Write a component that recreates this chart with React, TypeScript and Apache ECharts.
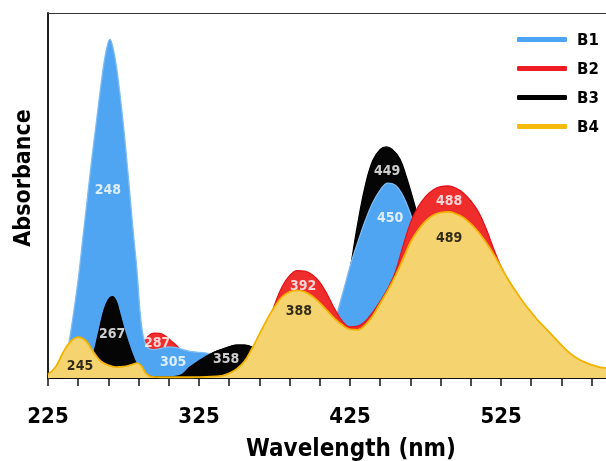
import React, { useEffect, useRef } from 'react';
import * as echarts from 'echarts';

// Wavelength origin of the x axis (nm)
const X0 = 225;
const XMAX = 594.5;
const xTickLabels = ['225', '325', '425', '525'];
const seriesNames = ['B1', 'B2', 'B3', 'B4'];

// B1 (blue)
const b1Wl = [225, 231, 236, 239, 242, 245, 248, 251, 254, 257, 260, 263, 266, 269, 272, 275, 278, 281, 284, 286, 288, 290, 292, 295, 300, 305, 310, 315, 320, 330, 335, 340, 345, 355, 370, 385, 400, 405, 410, 414, 418, 422, 426, 430, 435, 440, 445, 450, 455, 460, 465, 470, 475, 480, 485, 490, 500, 510, 530, 560, 600];
const b1Abs = [0, 0.01, 0.04, 0.1, 0.18, 0.27, 0.38, 0.49, 0.6, 0.7, 0.8, 0.885, 0.928, 0.885, 0.8, 0.69, 0.56, 0.42, 0.29, 0.18, 0.115, 0.09, 0.08, 0.078, 0.081, 0.085, 0.083, 0.077, 0.072, 0.068, 0.06, 0.045, 0.03, 0.02, 0.02, 0.025, 0.04, 0.05, 0.085, 0.14, 0.2, 0.26, 0.32, 0.37, 0.43, 0.48, 0.515, 0.534, 0.528, 0.5, 0.45, 0.385, 0.31, 0.23, 0.165, 0.12, 0.06, 0.035, 0.02, 0.01, 0.01];

// B2 (red)
const b2Wl = [225, 240, 255, 270, 280, 285, 288, 291, 295, 299, 303, 307, 311, 315, 320, 330, 340, 350, 355, 360, 365, 370, 375, 380, 385, 390, 395, 400, 405, 410, 415, 420, 425, 430, 435, 440, 445, 450, 455, 460, 465, 470, 475, 480, 485, 490, 495, 500, 505, 510, 515, 520, 525, 530, 535, 540, 545, 550, 555, 560, 565, 570, 575, 580, 585, 590, 595, 600];
const b2Abs = [0, 0.01, 0.02, 0.04, 0.055, 0.075, 0.095, 0.113, 0.123, 0.122, 0.114, 0.1, 0.085, 0.065, 0.048, 0.032, 0.028, 0.035, 0.042, 0.055, 0.09, 0.14, 0.2, 0.25, 0.28, 0.294, 0.293, 0.283, 0.262, 0.228, 0.188, 0.155, 0.14, 0.142, 0.155, 0.18, 0.21, 0.245, 0.29, 0.36, 0.425, 0.468, 0.497, 0.515, 0.524, 0.526, 0.52, 0.507, 0.485, 0.455, 0.41, 0.355, 0.305, 0.266, 0.234, 0.204, 0.178, 0.153, 0.132, 0.11, 0.088, 0.068, 0.053, 0.042, 0.034, 0.028, 0.025, 0.022];

// B3 (black)
const b3Wl = [225, 240, 250, 254, 258, 262, 265, 267.5, 270, 273, 276, 280, 284, 288, 294, 305, 313, 319, 325, 330, 335, 340, 345, 350, 355, 360, 365, 372, 385, 400, 410, 415, 420, 425, 430, 435, 440, 445, 449, 453, 458, 462, 466, 470, 475, 480, 485, 490, 500, 510, 520, 540, 600];
const b3Abs = [0, 0.003, 0.02, 0.05, 0.115, 0.185, 0.215, 0.223, 0.212, 0.17, 0.125, 0.075, 0.035, 0.012, 0.004, 0.003, 0.008, 0.03, 0.047, 0.06, 0.07, 0.078, 0.085, 0.09, 0.09, 0.085, 0.072, 0.05, 0.035, 0.04, 0.065, 0.1, 0.175, 0.295, 0.42, 0.525, 0.595, 0.626, 0.633, 0.626, 0.6, 0.555, 0.5, 0.44, 0.36, 0.285, 0.22, 0.17, 0.1, 0.06, 0.035, 0.015, 0.01];

// B4 (yellow)
const b4Wl = [225, 230, 235, 240, 245, 250, 255, 260, 265, 270, 275, 280, 284, 287, 290, 294, 300, 310, 320, 330, 340, 345, 350, 355, 360, 365, 370, 375, 380, 385, 390, 395, 400, 405, 410, 415, 420, 425, 430, 435, 440, 445, 450, 455, 460, 465, 470, 475, 480, 485, 490, 495, 500, 505, 510, 515, 520, 525, 530, 535, 540, 545, 550, 555, 560, 565, 570, 575, 580, 585, 590, 595, 600];
const b4Abs = [0.01, 0.03, 0.07, 0.1, 0.112, 0.102, 0.072, 0.046, 0.035, 0.03, 0.031, 0.036, 0.041, 0.032, 0.012, 0.003, 0.002, 0.002, 0.002, 0.003, 0.006, 0.013, 0.025, 0.045, 0.08, 0.12, 0.16, 0.195, 0.222, 0.236, 0.24, 0.236, 0.224, 0.206, 0.184, 0.162, 0.145, 0.133, 0.132, 0.145, 0.17, 0.205, 0.24, 0.28, 0.325, 0.372, 0.405, 0.43, 0.446, 0.453, 0.455, 0.45, 0.44, 0.422, 0.4, 0.372, 0.34, 0.304, 0.268, 0.236, 0.206, 0.18, 0.155, 0.134, 0.112, 0.09, 0.07, 0.055, 0.044, 0.036, 0.03, 0.027, 0.025];

// Peak annotations (text, wavelength position, absorbance position)
const peakLabels = ['248', '267', '245', '287', '305', '358', '392', '388', '449', '450', '488', '489'];
const peakWl = [264.7, 267.4, 246.2, 297.2, 307.8, 342.9, 393.9, 391.2, 449.5, 451.5, 490.6, 490.6];
const peakAbs = [0.518, 0.123, 0.036, 0.099, 0.047, 0.055, 0.255, 0.186, 0.57, 0.441, 0.488, 0.386];

const FONT = 'DejaVu Sans Condensed, DejaVu Sans, sans-serif';
const labelColors = ['#fff', '#fff', '#000', '#fff', '#fff', '#fff', '#fff', '#000', '#fff', '#fff', '#fff', '#000'];

function pts(wl: number[], ab: number[], lo = -Infinity, hi = Infinity) {
  const out: number[][] = [];
  wl.forEach((w, i) => {
    if (w >= lo && w <= hi) out.push([w - X0, ab[i]]);
  });
  return out;
}

export default function App() {
  const ref = useRef<HTMLDivElement>(null);
  useEffect(() => {
    const chart = echarts.init(ref.current!, null, { renderer: 'svg' });
    const area = (name: string, data: number[][], fill: string, line: string, z: number, lw = 1.3) => ({
      name,
      type: 'line',
      data,
      z,
      smooth: 0.4,
      symbol: 'none',
      showSymbol: false,
      silent: true,
      color: fill,
      lineStyle: { color: line, width: lw },
      areaStyle: { color: fill, opacity: 1 },
    });
    chart.setOption({
      animation: false,
      grid: { left: 48, top: 13, right: 0, bottom: 83, show: false },
      xAxis: [
        {
          type: 'value',
          min: 0,
          max: XMAX - X0,
          interval: 20,
          axisLine: { show: true, lineStyle: { color: '#111', width: 2 } },
          axisTick: { show: true, length: 8, lineStyle: { color: '#111', width: 1.5 } },
          splitLine: { show: false },
          axisLabel: {
            margin: 26,
            fontSize: 22,
            fontWeight: 'bold',
            fontFamily: FONT,
            color: '#000',
            showMaxLabel: false,
            formatter: (v: number) => {
              const s = String(Math.round(v + X0));
              return xTickLabels.includes(s) ? s : '';
            },
          },
        },
        {
          type: 'value',
          position: 'top',
          min: 0,
          max: XMAX - X0,
          axisLine: { show: true, lineStyle: { color: '#333', width: 1.2 } },
          axisTick: { show: false },
          axisLabel: { show: false },
          splitLine: { show: false },
        },
      ],
      yAxis: {
        type: 'value',
        min: 0,
        max: 1,
        axisLine: { show: true, lineStyle: { color: '#222', width: 2 } },
        axisTick: { show: false },
        axisLabel: { show: false },
        splitLine: { show: false },
      },
      legend: {
        orient: 'vertical',
        left: 517,
        top: 31,
        padding: 0,
        itemWidth: 50,
        itemHeight: 5,
        itemGap: 12,
        icon: 'roundRect',
        textStyle: { fontSize: 15, fontWeight: 'bold', fontFamily: 'DejaVu Sans', color: '#000', lineHeight: 17, padding: [0, 0, 0, 5] },
        data: [
          { name: seriesNames[0], itemStyle: { color: '#4DA6F5' } },
          { name: seriesNames[1], itemStyle: { color: '#EE1C24' } },
          { name: seriesNames[2], itemStyle: { color: '#000000' } },
          { name: seriesNames[3], itemStyle: { color: '#F5BA0A' } },
        ],
      },
      graphic: [
        {
          type: 'text',
          x: 22,
          y: 178,
          rotation: Math.PI / 2,
          style: { text: 'Absorbance', fontSize: 23, fontWeight: 'bold', fontFamily: FONT, fill: '#000', align: 'center', verticalAlign: 'middle' },
        },
        {
          type: 'text',
          x: 351,
          y: 448,
          style: { text: 'Wavelength (nm)', fontSize: 24, fontWeight: 'bold', fontFamily: FONT, fill: '#000', align: 'center', verticalAlign: 'middle' },
        },
      ],
      series: [
        area(seriesNames[2], pts(b3Wl, b3Abs), '#050505', '#000', 1),
        area(seriesNames[0], pts(b1Wl, b1Abs, 340), '#4FA5F2', '#7DBBF3', 2),
        area(seriesNames[1], pts(b2Wl, b2Abs), '#EF2D2D', '#E5141B', 3),
        area(seriesNames[0], pts(b1Wl, b1Abs, -Infinity, 340), '#4FA5F2', '#7DBBF3', 4),
        area(seriesNames[2], pts(b3Wl, b3Abs, -Infinity, 385), '#050505', '#000', 5),
        area(seriesNames[3], pts(b4Wl, b4Abs), '#F5D470', '#F2B200', 6, 1.8),
        {
          type: 'scatter',
          z: 10,
          silent: true,
          symbolSize: 1,
          itemStyle: { color: 'rgba(0,0,0,0)' },
          label: { show: true, position: 'inside', fontSize: 14, fontWeight: 'bold', fontFamily: FONT },
          data: peakLabels.map((t, i) => ({
            value: [peakWl[i] - X0, peakAbs[i]],
            label: { formatter: t, color: labelColors[i] },
          })),
        },
      ],
    });
    return () => chart.dispose();
  }, []);
  return <div ref={ref} style={{ position: 'fixed', left: 0, top: 0, width: 606, height: 461 }} />;
}
